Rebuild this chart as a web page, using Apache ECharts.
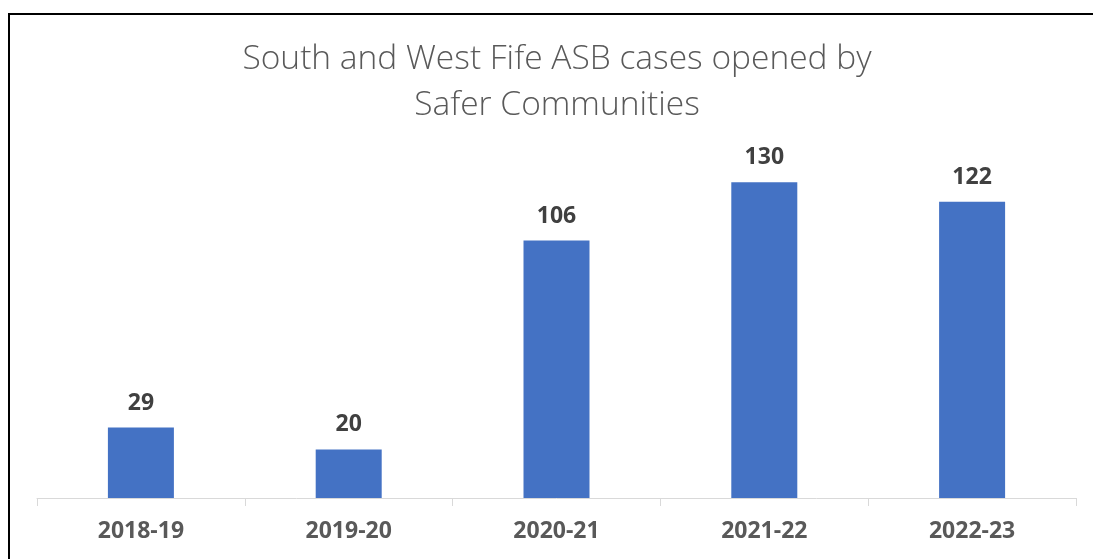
<!DOCTYPE html>
<html>
<head>
<meta charset="utf-8">
<script src="https://cdn.jsdelivr.net/npm/echarts@6/dist/echarts.min.js"></script>
<style>
  html, body { margin: 0; padding: 0; background: #fff; }
  #chart { width: 1093px; height: 559px; }
</style>
</head>
<body>
<div id="chart"></div>
<script>
const years = ["2018-19", "2019-20", "2020-21", "2021-22", "2022-23"];
const cases = [29, 20, 106, 130, 122];

const myChart = echarts.init(document.getElementById("chart"));
const option = {
  animation: false,
  title: {
    text: "South and West Fife ASB cases opened by\nSafer Communities",
    left: 552,
    textAlign: "center",
    top: 31,
    textStyle: {
      fontFamily: "Open Sans",
      fontWeight: 300,
      fontSize: 33.5,
      lineHeight: 46,
      color: "#595959",
    },
  },
  graphic: [
    {
      type: "rect",
      shape: { x: 9, y: 14, width: 1100, height: 600 },
      style: { fill: "none", stroke: "#000", lineWidth: 2 },
      silent: true,
    },
  ],
  grid: {
    left: 37,
    right: 17,
    top: 158,
    bottom: 61,
  },
  xAxis: {
    type: "category",
    data: years,
    axisLine: { lineStyle: { color: "#d9d9d9", width: 1 } },
    axisTick: { show: true, length: 8, lineStyle: { color: "#d9d9d9" } },
    axisLabel: {
      color: "#595959",
      fontFamily: "Open Sans",
      fontWeight: "bold",
      fontSize: 23,
      margin: 22,
    },
  },
  yAxis: {
    type: "value",
    min: 0,
    max: 140,
    show: false,
    splitLine: { show: false },
  },
  series: [
    {
      type: "bar",
      data: cases,
      barWidth: 66,
      itemStyle: { color: "#4472c4" },
      label: {
        show: true,
        position: "top",
        distance: 13,
        color: "#404040",
        fontFamily: "Open Sans",
        fontWeight: "bold",
        fontSize: 23,
      },
    },
  ],
};
myChart.setOption(option);
</script>
</body>
</html>
